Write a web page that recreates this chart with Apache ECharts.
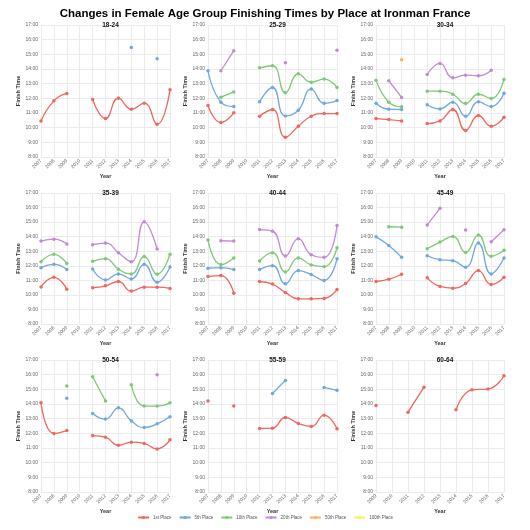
<!DOCTYPE html>
<html>
<head>
<meta charset="utf-8">
<script src="https://cdn.jsdelivr.net/npm/echarts@6/dist/echarts.min.js"></script>
<style>html,body{margin:0;padding:0;background:#fff}#c{width:530px;height:530px}</style>
</head>
<body>
<div id="c"></div>
<script>
// ---------- DATA ----------
const mainTitle = 'Changes in Female Age Group Finishing Times by Place at Ironman France';
const years = ['2007','2008','2009','2010','2011','2012','2013','2014','2015','2016','2017'];
const years6064 = ['2009','2010','2011','2012','2013','2014','2015','2016','2017'];
const places = ['1st Place','5th Place','10th Place','20th Place','50th Place','100th Place'];
const ageGroups = ['18-24','25-29','30-34','35-39','40-44','45-49','50-54','55-59','60-64'];
const yTicks = [8,9,10,11,12,13,14,15,16,17];

// finish times in hours, per age group and place (null = no data)
const ag1824_1st  = [10.46,11.83,12.33,null,11.92,10.62,12.01,11.26,11.67,10.23,12.58];
const ag1824_5th  = [null,null,null,null,null,null,null,15.47,null,14.70,null];

const ag2529_1st  = [11.51,10.35,11.01,null,10.78,11.24,9.35,10.10,10.78,10.96,10.96];
const ag2529_5th  = [13.88,11.74,11.44,null,11.76,12.74,10.80,11.19,12.63,11.67,11.85];
const ag2529_10th = [null,12.08,12.44,null,14.08,14.22,12.38,13.67,13.10,13.31,12.74];
const ag2529_20th = [null,13.88,15.25,null,null,null,14.43,null,null,null,15.27];

const ag3034_1st  = [10.62,10.55,10.46,null,10.28,10.46,11.24,9.80,10.83,10.10,10.71];
const ag3034_5th  = [11.67,11.26,11.24,null,11.56,11.28,11.74,10.78,11.76,11.44,12.35];
const ag3034_10th = [13.24,11.74,11.42,null,12.49,12.49,12.28,11.65,12.28,11.99,13.29];
const ag3034_20th = [null,13.20,12.06,null,13.63,14.38,13.40,13.58,13.54,13.92,null];
const ag3034_50th = [null,null,14.63,null,null,null,null,null,null,null,null];

const ag3539_1st  = [10.55,11.21,10.39,null,10.49,10.62,10.92,10.26,10.53,10.53,10.44];
const ag3539_5th  = [11.87,12.10,11.74,null,11.78,11.03,11.44,11.10,12.10,10.87,11.92];
const ag3539_10th = [12.28,12.79,12.15,null,12.31,12.49,11.76,11.44,12.63,11.42,12.79];
const ag3539_20th = [13.70,13.83,13.49,null,13.45,13.56,12.90,12.28,15.02,13.15,null];

const ag4044_1st  = [11.26,11.33,10.12,null,10.92,10.74,10.17,9.73,9.73,9.76,10.37];
const ag4044_5th  = [11.83,11.87,11.74,null,11.74,12.01,10.76,11.67,11.40,10.99,12.49];
const ag4044_10th = [13.77,12.08,12.54,null,12.33,12.90,11.58,12.54,12.06,11.94,13.24];
const ag4044_20th = [null,13.72,13.70,null,14.49,14.38,12.67,13.86,12.76,12.58,14.77];

const ag4549_1st  = [10.92,11.08,11.42,null,11.17,10.58,10.46,10.78,11.67,10.71,11.21];
const ag4549_5th  = [13.99,13.40,12.58,null,12.69,12.42,12.35,11.90,13.56,11.44,12.54];
const ag4549_10th = [null,14.68,14.65,null,13.17,13.63,14.02,12.92,14.11,12.65,13.06];
const ag4549_20th = [null,null,null,null,14.81,15.95,null,14.45,null,13.65,14.47];

const ag5054_1st  = [14.08,11.99,12.19,null,11.85,11.74,11.19,11.40,11.31,10.94,11.56];
const ag5054_5th  = [null,null,14.40,null,13.36,12.97,13.74,12.85,12.40,12.65,13.13];
const ag5054_10th = [null,null,15.22,null,15.86,14.20,null,15.31,13.86,13.86,14.08];
const ag5054_20th = [null,null,null,null,null,null,null,null,null,16.00,null];

const ag5559_1st  = [14.20,null,13.86,null,12.33,12.35,13.08,12.67,12.47,13.24,12.31];
const ag5559_5th  = [null,null,null,null,null,14.72,15.61,null,null,15.13,14.93];

const ag6064_1st  = [13.90,null,13.44,15.15,null,13.60,14.97,15.02,15.93];

// ---------- STYLE ----------
const colors = ['#ef675e','#6fa8dc','#7dc977','#c18bd3','#ffb04f','#f2f25e'];
const font = 'Liberation Sans, Arial, sans-serif';

const panels = [
  {cats: years, data: [ag1824_1st, ag1824_5th]},
  {cats: years, data: [ag2529_1st, ag2529_5th, ag2529_10th, ag2529_20th]},
  {cats: years, data: [ag3034_1st, ag3034_5th, ag3034_10th, ag3034_20th, ag3034_50th]},
  {cats: years, data: [ag3539_1st, ag3539_5th, ag3539_10th, ag3539_20th]},
  {cats: years, data: [ag4044_1st, ag4044_5th, ag4044_10th, ag4044_20th]},
  {cats: years, data: [ag4549_1st, ag4549_5th, ag4549_10th, ag4549_20th]},
  {cats: years, data: [ag5054_1st, ag5054_5th, ag5054_10th, ag5054_20th]},
  {cats: years, data: [ag5559_1st, ag5559_5th]},
  {cats: years6064, data: [ag6064_1st]}
];

const colLeft = [41, 208, 376];
const colWidth = [129, 129, 128];
const rowTop = [25, 193, 360];
const rowHeight = [132, 131, 132];

const grids = [], xAxes = [], yAxes = [], series = [];
const titles = [{
  text: mainTitle, left: 'center', top: 3,
  textStyle: {fontSize: 11.5, fontWeight: 'bold', fontFamily: font, color: '#000'}
}];

panels.forEach((p, i) => {
  const col = i % 3, row = Math.floor(i / 3);
  grids.push({left: colLeft[col], top: rowTop[row], width: colWidth[col], height: rowHeight[row], containLabel: false});
  titles.push({
    text: ageGroups[i], left: colLeft[col] + colWidth[col] / 2, top: rowTop[row] - 8,
    textAlign: 'center',
    textStyle: {fontSize: 6.5, fontWeight: 'bold', fontFamily: font, color: '#111'}
  });
  xAxes.push({
    type: 'category', gridIndex: i, data: p.cats, boundaryGap: false,
    name: 'Year', nameLocation: 'middle', nameGap: 16,
    nameTextStyle: {fontSize: 5.5, fontWeight: 'bold', fontFamily: font, color: '#333'},
    axisLine: {show: false}, axisTick: {show: false},
    axisLabel: {rotate: 45, fontSize: 5, fontFamily: font, color: '#666', interval: 0, margin: 3},
    splitLine: {show: true, lineStyle: {color: '#ebebeb', width: 1}}
  });
  yAxes.push({
    type: 'value', gridIndex: i, min: 8, max: 17, interval: 1,
    name: 'Finish Time', nameLocation: 'middle', nameGap: 20,
    nameTextStyle: {fontSize: 5.5, fontWeight: 'bold', fontFamily: font, color: '#333'},
    axisLine: {show: false}, axisTick: {show: false},
    axisLabel: {fontSize: 5, fontFamily: font, color: '#666', margin: 3,
      formatter: v => (yTicks.indexOf(v) >= 0 ? v + ':00' : '')},
    splitLine: {show: true, lineStyle: {color: '#ebebeb', width: 1}}
  });
  p.data.forEach((d, k) => {
    series.push({
      name: places[k], type: 'line', xAxisIndex: i, yAxisIndex: i,
      data: d, smooth: 0.5, connectNulls: false,
      showSymbol: true, showAllSymbol: true, symbol: 'circle', symbolSize: 3.5,
      lineStyle: {width: 1.3, color: colors[k]},
      itemStyle: {color: colors[k]},
      emphasis: {disabled: true}, animation: false
    });
  });
});
// keep legend entry for 100th place (no data in any group)
series.push({name: places[5], type: 'line', xAxisIndex: 0, yAxisIndex: 0, data: [],
  symbol: 'circle', symbolSize: 3.5, lineStyle: {width: 1.3, color: colors[5]}, itemStyle: {color: colors[5]}, animation: false});

const chart = echarts.init(document.getElementById('c'), null, {renderer: 'canvas'});
chart.setOption({
  backgroundColor: '#fff',
  animation: false,
  color: colors,
  title: titles,
  grid: grids,
  xAxis: xAxes,
  yAxis: yAxes,
  legend: {
    data: places, bottom: 5, left: 'center', itemWidth: 11, itemHeight: 4, itemGap: 7,
    textStyle: {fontSize: 4.5, fontFamily: font, color: '#555', padding: [0, 0, 0, -1]}
  },
  series: series
});
</script>
</body>
</html>
